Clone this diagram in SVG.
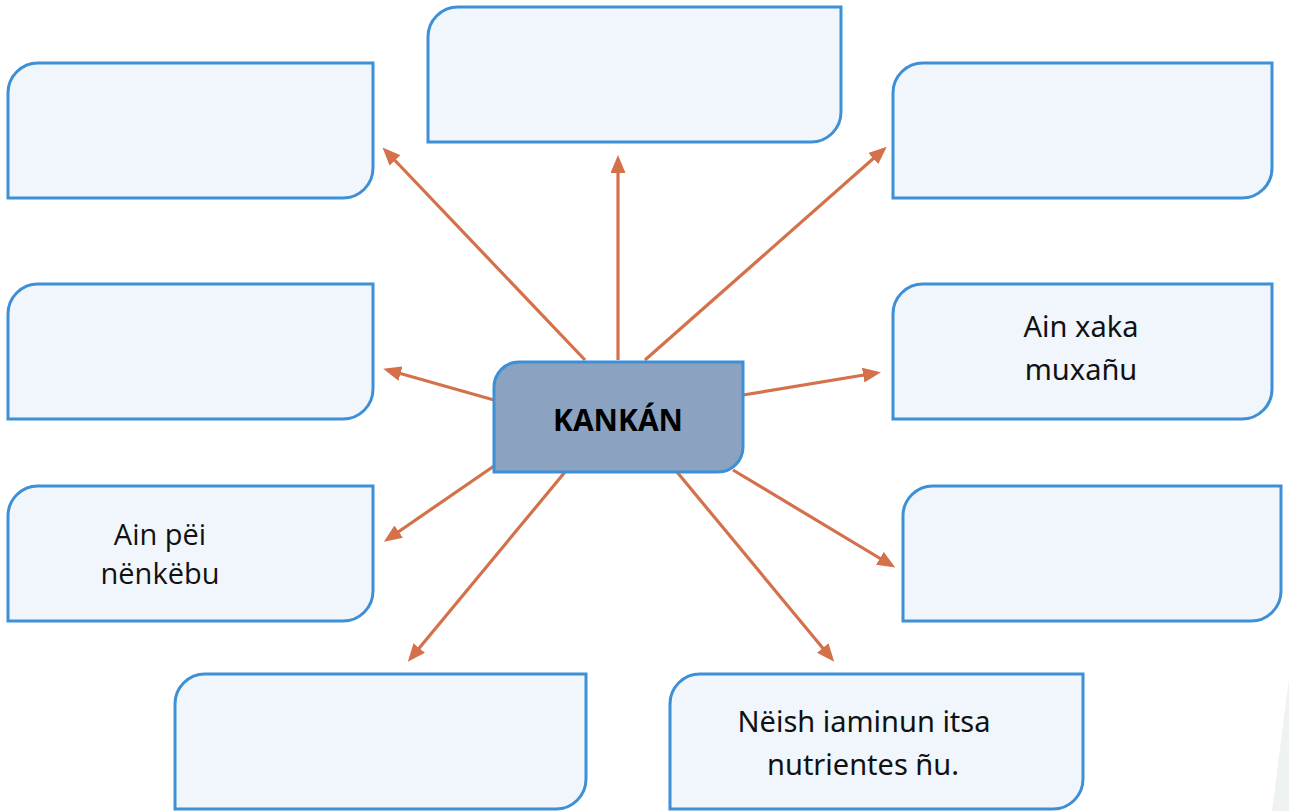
<svg xmlns="http://www.w3.org/2000/svg" width="1289" height="811" viewBox="0 0 1289 811">
<style>
.box{fill:#f0f6fb;stroke:#3d8fd6;stroke-width:3}
.center{fill:#8ba3c0;stroke:#3d8fd6;stroke-width:3}
.arrow{stroke:#d4714a;stroke-width:3.2;fill:none;marker-end:url(#ah)}
.t{font-family:"Noto Sans","Liberation Sans",sans-serif;font-size:29px;fill:#111;text-anchor:middle}
.t2{font-family:"Open Sans","Liberation Sans",sans-serif;font-size:29px;fill:#111;text-anchor:middle}
.title{font-family:"Open Sans","Liberation Sans",sans-serif;font-size:30px;font-weight:bold;fill:#000;text-anchor:middle}
</style>
<defs>
<marker id="ah" markerUnits="userSpaceOnUse" viewBox="0 0 18 15" markerWidth="18" markerHeight="15" refX="13" refY="7.5" orient="auto">
<path d="M0,0 L18,7.5 L0,15 Z" fill="#d4714a"/>
</marker>
</defs>
<rect width="1289" height="811" fill="#ffffff"/>
<polygon points="1289,678 1289,811 1272,811" fill="#eef3f2"/>
<g id="connectors">
<line class="arrow" x1="585" y1="360" x2="386" y2="151"/>
<line class="arrow" x1="618" y1="360" x2="618" y2="160"/>
<line class="arrow" x1="645" y1="360" x2="883" y2="150"/>
<line class="arrow" x1="494" y1="400" x2="388" y2="370"/>
<line class="arrow" x1="743" y1="395" x2="876" y2="373"/>
<line class="arrow" x1="494" y1="466" x2="388" y2="539"/>
<line class="arrow" x1="565" y1="472" x2="411" y2="658"/>
<line class="arrow" x1="677" y1="472" x2="831" y2="658"/>
<line class="arrow" x1="733" y1="470" x2="891" y2="565"/>
</g>
<g id="node-center">
<path class="center" d="M519,362 H743 V447 A25,25 0 0 1 718,472 H494 V387 A25,25 0 0 1 519,362 Z"/>
<text class="title" x="618" y="431">KANKÁN</text>
</g>
<g id="node-top-left"><path class="box" d="M38,63 H373 V168 A30,30 0 0 1 343,198 H8 V93 A30,30 0 0 1 38,63 Z"/></g>
<g id="node-top"><path class="box" d="M458,7 H841 V112 A30,30 0 0 1 811,142 H428 V37 A30,30 0 0 1 458,7 Z"/></g>
<g id="node-top-right"><path class="box" d="M923,63 H1272 V168 A30,30 0 0 1 1242,198 H893 V93 A30,30 0 0 1 923,63 Z"/></g>
<g id="node-mid-left"><path class="box" d="M38,284 H373 V389 A30,30 0 0 1 343,419 H8 V314 A30,30 0 0 1 38,284 Z"/></g>
<g id="node-mid-right">
<path class="box" d="M923,284 H1272 V389 A30,30 0 0 1 1242,419 H893 V314 A30,30 0 0 1 923,284 Z"/>
<text class="t" x="1081" y="337">Ain xaka</text>
<text class="t" x="1081" y="380">muxañu</text>
</g>
<g id="node-low-left">
<path class="box" d="M38,486 H373 V591 A30,30 0 0 1 343,621 H8 V516 A30,30 0 0 1 38,486 Z"/>
<text class="t2" x="160" y="545">Ain pëi</text>
<text class="t2" x="160" y="584">nënkëbu</text>
</g>
<g id="node-low-right"><path class="box" d="M933,486 H1281 V591 A30,30 0 0 1 1251,621 H903 V516 A30,30 0 0 1 933,486 Z"/></g>
<g id="node-bottom-left"><path class="box" d="M205,674 H586 V779 A30,30 0 0 1 556,809 H175 V704 A30,30 0 0 1 205,674 Z"/></g>
<g id="node-bottom-right">
<path class="box" d="M700,674 H1083 V779 A30,30 0 0 1 1053,809 H670 V704 A30,30 0 0 1 700,674 Z"/>
<text class="t" x="864" y="732">Nëish iaminun itsa</text>
<text class="t" x="863" y="775">nutrientes ñu.</text>
</g>
</svg>
